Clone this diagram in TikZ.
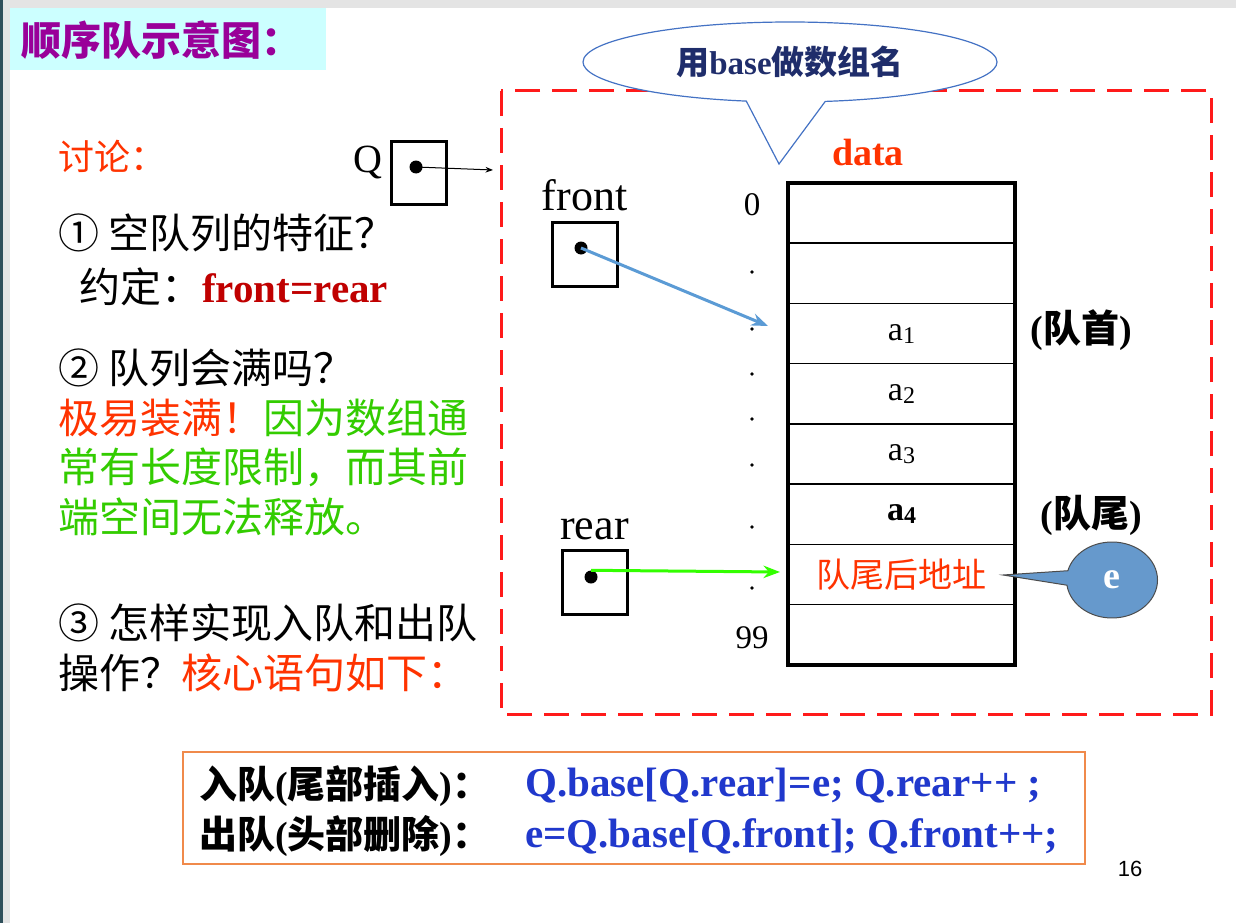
\documentclass[tikz,border=0pt]{standalone}
\usepackage{fontspec}
\setmainfont{Liberation Serif}
\setsansfont{Liberation Sans}
\newfontfamily\cjk{Noto Sans CJK SC}
\usetikzlibrary{arrows.meta,positioning,shapes.geometric,shapes.callouts}
\tikzset{>=Stealth}
\newcommand*{\fs}[1]{\fontsize{#1}{#1}\selectfont}
\newcommand*{\zh}[1]{{\cjk #1}}

\definecolor{titlepurple}{HTML}{990099}
\definecolor{titlebg}{HTML}{CCFFFF}
\definecolor{discred}{HTML}{FF3300}
\definecolor{okgreen}{HTML}{33CC00}
\definecolor{darkred}{HTML}{C00000}
\definecolor{codeblue}{HTML}{2038CC}
\definecolor{dashred}{HTML}{FF1A1A}
\definecolor{frontblue}{HTML}{5B9BD5}
\definecolor{arrgreen}{HTML}{33FF00}
\definecolor{calloutblue}{HTML}{6699CC}
\definecolor{navyline}{HTML}{4472C4}
\definecolor{navytext}{HTML}{1F2D6B}
\definecolor{orangeline}{HTML}{F08A4B}
\definecolor{slidegray}{HTML}{E4E4E4}
\definecolor{slidedark}{HTML}{2F4F5A}

\tikzset{
  txt/.style={anchor=west, inner sep=0pt, font=\cjk\fs{41}},
  lbl/.style={inner sep=0pt, font=\fs{44}},
  idx/.style={inner sep=0pt, font=\fs{33}},
  ptrbox/.style={draw, line width=3pt, minimum width=65, minimum height=64, inner sep=0pt},
  ptrdot/.style={circle, fill, minimum size=13, inner sep=0pt},
  cell/.style={draw, line width=1.5pt, minimum width=227, minimum height=60.25,
    inner sep=0pt, outer sep=0pt, font=\fs{34}},
  code/.style={anchor=west, inner sep=0pt, font=\bfseries\fs{38}}
}

\begin{document}
\begin{tikzpicture}[x=1pt,y=-1pt]
\useasboundingbox (0,0) rectangle (1236,923);

% slide background
\fill[slidegray] (0,0) rectangle (1236,923);
\fill[slidedark] (0,0) rectangle (3,923);
\fill[white] (10,8) rectangle (1236,923);
\fill[titlebg] (10,8) rectangle (326,70);
\node[anchor=west, inner sep=0pt, text=titlepurple, font=\cjk\bfseries\fs{40}]
  (title) at (21,40) {顺序队示意图：};

% discussion
\node[txt, font=\cjk\fs{36}, text=discred] (disc) at (58,156) {讨论：};
\node[txt] (q1) at (58,233) {① 空队列的特征？};
\node[txt] (q1b) at (79,287) {约定：\rmfamily\bfseries\color{darkred}front=rear};
\node[txt] (q2) at (58,368) {② 队列会满吗？};
\node[txt] (a2a) at (58,418) {\color{discred}极易装满！\color{okgreen}因为数组通};
\node[txt, text=okgreen] (a2b) at (58,467) {常有长度限制，而其前};
\node[txt, text=okgreen] (a2c) at (58,517) {端空间无法释放。};
\node[txt] (q3) at (58,623) {③ 怎样实现入队和出队};
\node[txt] (q3b) at (58,673) {操作？\color{discred}核心语句如下：};

% queue frame
\draw[dashred, line width=3pt, dash pattern=on 25pt off 12pt] (501,91) rectangle (1211,714);

% pointer Q
\node[ptrbox, minimum width=55, minimum height=63] (qbox) at (418.5,172.5) {};
\node[ptrdot] (qdot) at (416,167) {};
\node[lbl, font=\fs{40}, anchor=base east] (qlbl) at (383,172) {Q};
\coordinate (qtip) at (493,170);
\draw[->, line width=1pt] (qdot.center) -- (qtip);

% pointer front
\node[ptrbox] (frontbox) at (584.5,254) {};
\node[ptrdot] (fdot) at (581,248) {};
\node[lbl, above=9pt of frontbox] (frontlbl) {front};

% pointer rear
\node[ptrbox] (rearbox) at (594.5,582) {};
\node[ptrdot] (rdot) at (591,577) {};
\node[lbl, above=8pt of rearbox] (rearlbl) {rear};

% array cells
\node[cell] (c0) at (901.5,213.1) {};
\node[cell, below=0pt of c0] (c1) {};
\node[cell, below=0pt of c1] (c2) {a\raisebox{-3pt}{\fs{24}1}};
\node[cell, below=0pt of c2] (c3) {a\raisebox{-3pt}{\fs{24}2}};
\node[cell, below=0pt of c3] (c4) {a\raisebox{-3pt}{\fs{24}3}};
\node[cell, below=0pt of c4] (c5) {\bfseries a\raisebox{-3pt}{\fs{24}4}};
\node[cell, below=0pt of c5, text=discred] (c6) {\zh{队尾后地址}};
\node[cell, below=0pt of c6] (c7) {};
\draw[line width=3.5pt] (c0.north west) rectangle (c7.south east);
\node[font=\bfseries\fs{38}, text=discred, inner sep=0pt] (data) at (868,153) {data};

% indices
\node[idx] (i0) at (752,205) {0};
\node[idx] (i99) at (752,638) {99};
\foreach \y in {272,329,374,419,465,527,588}
  \fill (752,\y) circle (1.8pt);

% front / rear arrows
\coordinate (ftip) at (768,326);
\draw[->, frontblue, line width=3pt] (fdot.center) -- (ftip);
\coordinate (rtip) at (780,572);
\draw[->, arrgreen, line width=3pt] (rdot.north) -- (rtip);

% head / tail marks
\node[font=\bfseries\fs{38}, inner sep=0pt] (headlbl) at (1081,330) {(\zh{队首})};
\node[font=\bfseries\fs{38}, inner sep=0pt] (taillbl) at (1091,515) {(\zh{队尾})};

% callouts
\coordinate (etip) at (1003,575);
\node[ellipse callout, draw=black!70, line width=1pt, fill=calloutblue, text=white,
  font=\bfseries\fs{38}, minimum width=91, minimum height=76,
  callout absolute pointer={(etip)}, callout pointer arc=22] (ecall) at (1112,580) {e};
\coordinate (btip) at (779,164);
\node[ellipse callout, draw=navyline, line width=1.2pt, fill=white, text=navytext,
  font=\bfseries\fs{33}, minimum width=414, minimum height=80,
  callout absolute pointer={(btip)}, callout pointer arc=22] (basecall) at (790,62)
  {\zh{用}base\zh{做数组名}};

% core statements
\node[draw=orangeline, line width=1.2pt, minimum width=902, minimum height=112]
  (codebox) at (634,808) {};
\node[code] (enq) at (199,786) {\zh{入队}(\zh{尾部插入})\zh{：}};
\node[code, text=codeblue, font=\bfseries\fs{41}] (enqcode) at (525,786) {Q.base[Q.rear]=e; Q.rear++ ;};
\node[code] (deq) at (199,836) {\zh{出队}(\zh{头部删除})\zh{：}};
\node[code, text=codeblue, font=\bfseries\fs{41}] (deqcode) at (525,836) {e=Q.base[Q.front]; Q.front++;};

\node[font=\sffamily\fs{22}, inner sep=0pt] (pgno) at (1130,869) {16};
\end{tikzpicture}
\end{document}
